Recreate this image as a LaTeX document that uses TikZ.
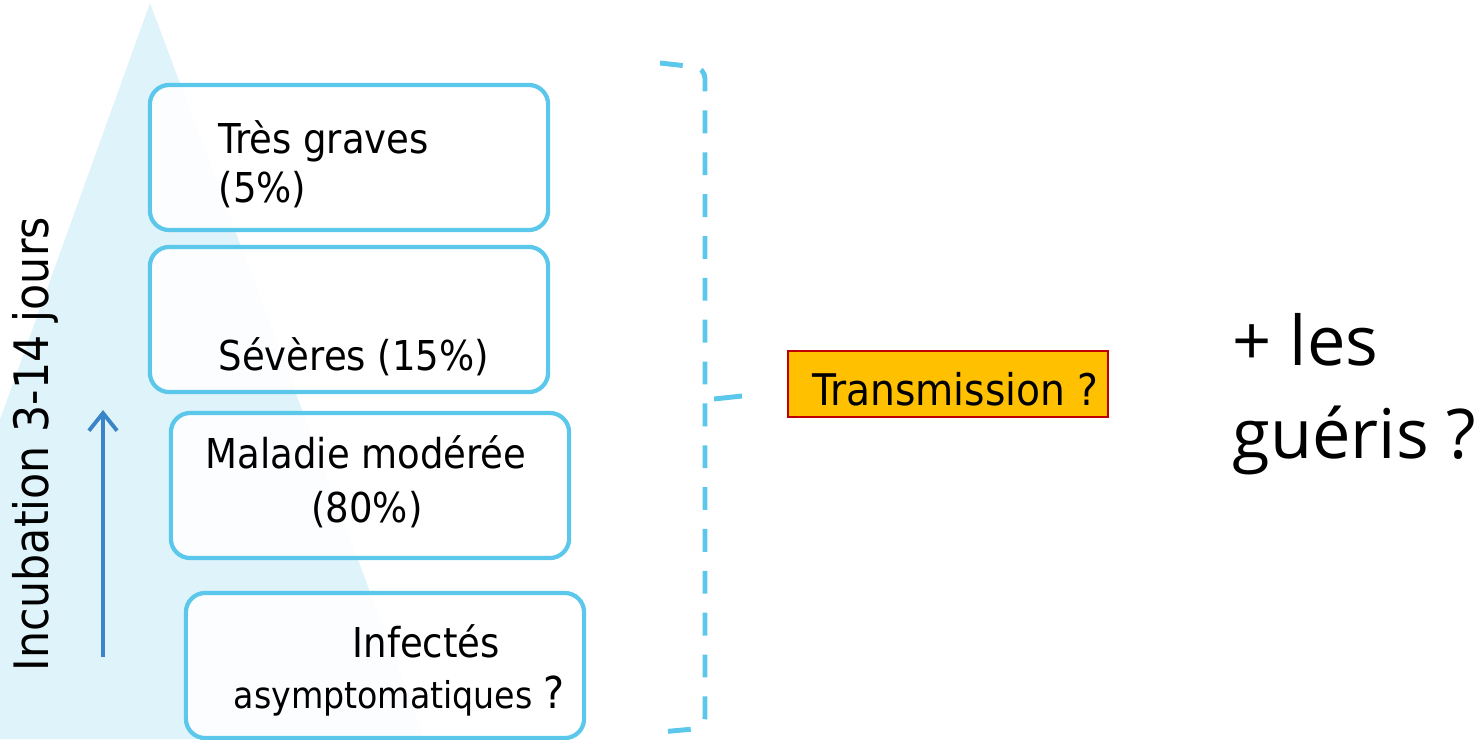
\documentclass[tikz,border=0pt]{standalone}
\usepackage{fontspec}
\setmainfont{DejaVu Sans Condensed}
\newfontfamily\guerisfont{Open Sans}
\usetikzlibrary{arrows.meta}

\definecolor{ciel}{HTML}{DFF3FA}
\definecolor{bord}{HTML}{5BC8EB}
\definecolor{fleche}{HTML}{3A85C8}
\definecolor{jaune}{HTML}{FFC000}
\definecolor{rouge}{HTML}{C00000}

\tikzset{
  etage/.style={draw=bord, line width=1.2pt, fill=white, fill opacity=0.88,
    rounded corners=5.5pt, minimum width=3.98cm, minimum height=1.45cm, inner sep=0pt},
  txt/.style={anchor=base west, inner sep=0pt, font=\fontsize{11.7}{14}\selectfont},
  accolade/.style={draw=bord, line width=1.4pt},
}

\begin{document}
\begin{tikzpicture}[x=0.01cm, y=-0.01cm]
\useasboundingbox (0,0) rectangle (1482,739);
\clip (0,0) rectangle (1482,739);

% pyramide
\fill[ciel] (150,3) -- (425,739) -- (-115,739) -- cycle;

\node[rotate=90, anchor=base west, inner sep=0pt, font=\fontsize{13.5}{16}\selectfont] (incub) at (48,672) {Incubation 3-14 jours};

\coordinate (bas) at (103,657);
\coordinate (haut) at (103,410);
\draw[fleche, line width=1.1pt, -{Straight Barb[length=5pt,width=8pt]}] (bas) -- (haut);

% les etages
\node[etage] (grave) at (349,157.5) {};
\node[etage] (severe) at (349,319.5) {};
\node[etage] (modere) at (370,485.5) {};
\node[etage] (asympt) at (385,665.5) {};

\node[txt] (grave1) at (218,153) {Très graves};
\node[txt] (grave2) at (218,202) {(5\%)};
\node[txt] (severe1) at (218,370) {Sévères (15\%)};
\node[txt] (modere1) at (205,468) {Maladie modérée};
\node[txt, anchor=base] (modere2) at (367,522) {(80\%)};
\node[txt] (asympt1) at (352,657) {Infectés};
\node[txt, font=\fontsize{10.5}{14}\selectfont] (asympt2) at (233,708) {asymptomatiques {\fontsize{12.5}{14}\selectfont ?}};

% accolade
\draw[accolade, dash pattern=on 6.5pt off 5.4pt, rounded corners=3pt] (660,63) -- (705,68) -- (705,728) -- (660,732);
\draw[accolade] (714,399) -- (742,396);

\node[draw=rouge, fill=jaune, line width=0.6pt, minimum width=3.2cm, minimum height=0.66cm, inner sep=0pt] (transm) at (948,384) {};
\node[txt, font=\fontsize{12.4}{14}\selectfont] (transm1) at (812,405) {Transmission ?};

\node[anchor=base west, inner sep=0pt, font=\guerisfont\fontsize{19.5}{24}\selectfont] (gueris1) at (1232,365) {+ les};
\node[anchor=base west, inner sep=0pt, font=\guerisfont\fontsize{19.5}{24}\selectfont] (gueris2) at (1232,458) {guéris ?};
\end{tikzpicture}
\end{document}
